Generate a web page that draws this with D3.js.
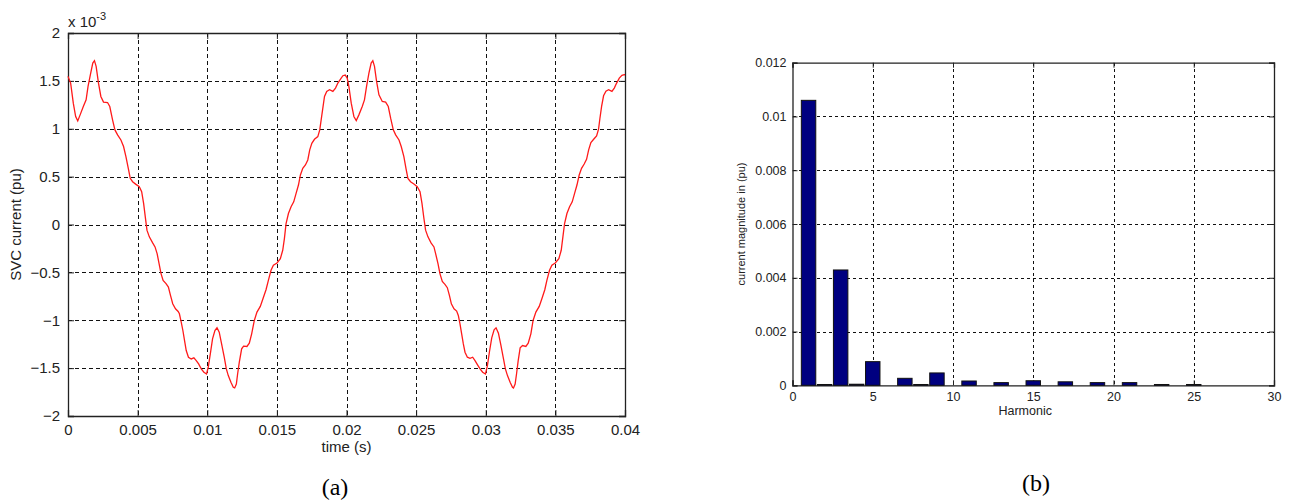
<!DOCTYPE html>
<html>
<head>
<meta charset="utf-8">
<script src="https://cdn.jsdelivr.net/npm/d3@7"></script>
<style>
  html, body { margin: 0; padding: 0; background: #fff; }
  svg { display: block; }
  text { font-family: "Liberation Sans", Arial, sans-serif; fill: #222; }
  .cap { font-family: "Liberation Serif", "Times New Roman", serif; fill: #000; }
</style>
</head>
<body>
<svg id="fig" width="1291" height="501"></svg>
<script>
// ---- (a) SVC current waveform, time in seconds, current in units of 1e-3 pu ----
const timeS = [
  0, 0.00019, 0.00038, 0.00055, 0.0007, 0.00087, 0.0011, 0.0013, 0.00144, 0.00163,
  0.00178, 0.0019, 0.00202, 0.00219, 0.00236, 0.00255, 0.00284, 0.003, 0.0032, 0.00337,
  0.00356, 0.0038, 0.00399, 0.00416, 0.00433, 0.00447, 0.00464, 0.00488, 0.00512, 0.00529,
  0.00543, 0.00555, 0.00567, 0.00584, 0.00608, 0.00625, 0.0064, 0.00654, 0.00668, 0.00683,
  0.00704, 0.00721, 0.00736, 0.00752, 0.00772, 0.00791, 0.008, 0.00813, 0.00825, 0.00837,
  0.00849, 0.00865, 0.00885, 0.00904, 0.00921, 0.00938, 0.00957, 0.00976, 0.00995,
  0.01007, 0.01022, 0.01038, 0.01055, 0.0107, 0.01086, 0.01103, 0.01122, 0.01137, 0.01151,
  0.0117, 0.01187, 0.01197, 0.01209, 0.01218, 0.0123, 0.01247, 0.01261, 0.01285, 0.01302,
  0.01319, 0.01338, 0.01357, 0.01381, 0.014, 0.01422, 0.01439, 0.01458, 0.01475, 0.01501,
  0.01525, 0.01542, 0.01554, 0.01566, 0.01583, 0.01602, 0.01621, 0.01638, 0.01655, 0.01669,
  0.01686, 0.01705, 0.01722, 0.01736, 0.01751, 0.0177, 0.01794, 0.01808, 0.01818, 0.0183,
  0.01842, 0.01858, 0.01878, 0.01902, 0.01921, 0.01938, 0.01957, 0.01974, 0.01991,
  0.02005, 0.02017, 0.02034, 0.02053, 0.0207, 0.02089, 0.02113, 0.02129, 0.02144, 0.02161,
  0.02177, 0.02189, 0.02201, 0.02216, 0.02233, 0.02257, 0.02281, 0.023, 0.02317, 0.02336,
  0.02353, 0.02377, 0.02393, 0.02412, 0.02427, 0.02441, 0.0246, 0.02484, 0.02508, 0.02528,
  0.02542, 0.02556, 0.02568, 0.02585, 0.02607, 0.02628, 0.0264, 0.02657, 0.02671, 0.02688,
  0.02707, 0.02724, 0.02739, 0.02753, 0.02772, 0.02791, 0.02803, 0.02815, 0.02827, 0.02839,
  0.02851, 0.02868, 0.02887, 0.02906, 0.02923, 0.0294, 0.02959, 0.02978, 0.02998,
  0.03012, 0.03026, 0.03043, 0.0306, 0.03074, 0.03091, 0.03108, 0.03125, 0.03141, 0.03156,
  0.03175, 0.03192, 0.03199, 0.03211, 0.03221, 0.03233, 0.03247, 0.03264, 0.03288, 0.03305,
  0.03324, 0.0334, 0.0336, 0.03384, 0.03403, 0.03424, 0.03439, 0.03458, 0.03475, 0.03499,
  0.03525, 0.03542, 0.03554, 0.03566, 0.03583, 0.03602, 0.03621, 0.03638, 0.03655, 0.03671,
  0.03688, 0.03707, 0.03724, 0.03739, 0.03755, 0.03775, 0.03796, 0.0381, 0.0382, 0.03832,
  0.03846, 0.03863, 0.03882, 0.03906, 0.03923, 0.0394, 0.03959, 0.03978, 0.03995, 0.04
];
const currentE3 = [
  1.547, 1.477, 1.267, 1.128, 1.082, 1.145, 1.232, 1.302, 1.442, 1.582,
  1.686, 1.711, 1.652, 1.477, 1.337, 1.278, 1.274, 1.232, 1.093, 0.988,
  0.936, 0.883, 0.814, 0.709, 0.587, 0.482, 0.447, 0.419, 0.395, 0.342,
  0.22, 0.08, -0.059, -0.129, -0.192, -0.234, -0.304, -0.409, -0.513, -0.583,
  -0.618, -0.653, -0.74, -0.828, -0.88, -0.908, -0.932, -1.02, -1.107, -1.212,
  -1.316, -1.386, -1.404, -1.393, -1.421, -1.456, -1.508, -1.543, -1.561,
  -1.491, -1.351, -1.194, -1.107, -1.079, -1.124, -1.247, -1.386, -1.508, -1.578,
  -1.648, -1.7, -1.707, -1.666, -1.561, -1.439, -1.299, -1.271, -1.274, -1.24,
  -1.142, -1.002, -0.915, -0.855, -0.775, -0.681, -0.583, -0.478, -0.426, -0.402,
  -0.356, -0.269, -0.147, 0.01, 0.115, 0.185, 0.237, 0.325, 0.412, 0.517,
  0.587, 0.622, 0.674, 0.779, 0.848, 0.89, 0.918, 0.988, 1.093, 1.215,
  1.337, 1.39, 1.407, 1.39, 1.425, 1.477, 1.519, 1.554, 1.561,
  1.529, 1.442, 1.267, 1.128, 1.086, 1.145, 1.232, 1.302, 1.442, 1.582,
  1.686, 1.711, 1.652, 1.494, 1.355, 1.285, 1.278, 1.232, 1.11, 0.988,
  0.936, 0.883, 0.814, 0.709, 0.587, 0.482, 0.447, 0.422, 0.395, 0.342,
  0.22, 0.063, -0.059, -0.129, -0.192, -0.234, -0.304, -0.409, -0.513, -0.594,
  -0.625, -0.66, -0.74, -0.828, -0.88, -0.904, -0.95, -1.037, -1.142, -1.247,
  -1.334, -1.386, -1.397, -1.386, -1.421, -1.463, -1.508, -1.543, -1.561,
  -1.473, -1.334, -1.184, -1.1, -1.079, -1.135, -1.254, -1.386, -1.508, -1.578,
  -1.648, -1.7, -1.707, -1.666, -1.561, -1.421, -1.288, -1.264, -1.274, -1.24,
  -1.142, -1.002, -0.915, -0.855, -0.775, -0.681, -0.583, -0.478, -0.426, -0.402,
  -0.356, -0.269, -0.129, 0.01, 0.115, 0.185, 0.237, 0.325, 0.412, 0.517,
  0.587, 0.632, 0.681, 0.779, 0.855, 0.89, 0.925, 0.995, 1.11, 1.233,
  1.344, 1.393, 1.407, 1.39, 1.425, 1.477, 1.529, 1.557, 1.564, 1.565
];
const timeTicks = [0, 0.005, 0.01, 0.015, 0.02, 0.025, 0.03, 0.035, 0.04];
const timeTickLabels = ["0", "0.005", "0.01", "0.015", "0.02", "0.025", "0.03", "0.035", "0.04"];
const currentTicks = [-2, -1.5, -1, -0.5, 0, 0.5, 1, 1.5, 2];

// ---- (b) harmonic spectrum of the SVC current ----
const harmonicOrder = [1, 2, 3, 4, 5, 7, 8, 9, 11, 13, 15, 17, 19, 21, 23, 25];
const harmonicMagnitude = [
  0.0106, 0.00003, 0.00429, 0.00004, 0.00088, 0.00026, 0.00003, 0.00046,
  0.00016, 0.0001, 0.00017, 0.00013, 0.0001, 0.0001, 0.00003, 0.00003
];
const harmonicTicks = [0, 5, 10, 15, 20, 25, 30];
const magnitudeTicks = [0, 0.002, 0.004, 0.006, 0.008, 0.01, 0.012];
const magnitudeTickLabels = ["0", "0.002", "0.004", "0.006", "0.008", "0.01", "0.012"];

const svg = d3.select("#fig");

// Shared helper: MATLAB-style box axes with inward ticks on all four sides and dashed grid.
function boxAxes(g, x, y, xTicks, yTicks, xFmt, yFmt, opts) {
  const [x0, x1] = x.range();
  const [y0, y1] = y.range(); // y0 bottom, y1 top
  const tk = opts.tick;

  // grid
  const grid = g.append("g").attr("stroke", "#111").attr("stroke-width", 1)
    .attr("stroke-dasharray", opts.dash).attr("shape-rendering", "crispEdges");
  grid.selectAll(".gx").data(xTicks.filter(v => x(v) > x0 + 1 && x(v) < x1 - 1)).join("line")
    .attr("x1", d => Math.round(x(d)) + 0.5).attr("x2", d => Math.round(x(d)) + 0.5)
    .attr("y1", y1).attr("y2", y0);
  grid.selectAll(".gy").data(yTicks.filter(v => y(v) < y0 - 1 && y(v) > y1 + 1)).join("line")
    .attr("y1", d => Math.round(y(d)) + 0.5).attr("y2", d => Math.round(y(d)) + 0.5)
    .attr("x1", x0).attr("x2", x1);

  // axes with inward ticks
  const bottom = g.append("g").attr("transform", `translate(0,${y0})`)
    .call(d3.axisBottom(x).tickValues(xTicks).tickFormat(xFmt).tickSize(-tk).tickPadding(opts.xPad));
  const top = g.append("g").attr("transform", `translate(0,${y1})`)
    .call(d3.axisTop(x).tickValues(xTicks).tickFormat("").tickSize(-tk));
  const left = g.append("g").attr("transform", `translate(${x0},0)`)
    .call(d3.axisLeft(y).tickValues(yTicks).tickFormat(yFmt).tickSize(-tk).tickPadding(opts.yPad));
  const right = g.append("g").attr("transform", `translate(${x1},0)`)
    .call(d3.axisRight(y).tickValues(yTicks).tickFormat("").tickSize(-tk));
  [bottom, top, left, right].forEach(a => {
    a.select(".domain").attr("stroke", "#222").attr("stroke-width", 1.3);
    a.selectAll(".tick line").attr("stroke", "#222");
    a.selectAll("text").attr("font-size", opts.fontSize).attr("fill", "#222")
      .attr("font-family", "'Liberation Sans', Arial, sans-serif");
  });
  return { bottom, left };
}

// ================= (a) =================
const xA = d3.scaleLinear().domain([0, 0.04]).range([68, 625]);
const yA = d3.scaleLinear().domain([-2, 2]).range([416, 33]);
const gA = svg.append("g");
boxAxes(gA, xA, yA, timeTicks, currentTicks,
  (d, i) => timeTickLabels[timeTicks.indexOf(d)], d => d3.format("")(d),
  { tick: 6, dash: "4,3", xPad: 8, yPad: 8, fontSize: 15 });

const waveLine = d3.line().x((d, i) => xA(timeS[i])).y(d => yA(d));
gA.append("path").datum(currentE3)
  .attr("d", waveLine).attr("fill", "none").attr("stroke", "#ff1a1a").attr("stroke-width", 1.3);

// exponent label
const expo = gA.append("text").attr("x", 68).attr("y", 27).attr("font-size", 15);
expo.append("tspan").text("x 10");
expo.append("tspan").attr("dy", -7).attr("font-size", 11).text("-3");

gA.append("text").attr("x", xA(0.02)).attr("y", 452).attr("text-anchor", "middle")
  .attr("font-size", 15).text("time (s)");
gA.append("text").attr("transform", `translate(21,${yA(0)}) rotate(-90)`)
  .attr("text-anchor", "middle").attr("font-size", 15).text("SVC current (pu)");

svg.append("text").attr("class", "cap").attr("x", 335).attr("y", 495)
  .attr("text-anchor", "middle").attr("font-size", 24).text("(a)");

// ================= (b) =================
const xB = d3.scaleLinear().domain([0, 30]).range([792.5, 1274]);
const yB = d3.scaleLinear().domain([0, 0.012]).range([385.3, 62.7]);
const gB = svg.append("g");
const barW = (xB(1) - xB(0)) * 0.9;
boxAxes(gB, xB, yB, harmonicTicks, magnitudeTicks,
  d => String(d), d => magnitudeTickLabels[magnitudeTicks.indexOf(d)],
  { tick: 5, dash: "3,3", xPad: 7, yPad: 6, fontSize: 12.5 });

gB.append("g").selectAll("rect").data(harmonicOrder).join("rect")
  .attr("x", (d) => xB(d) - barW / 2)
  .attr("width", barW)
  .attr("y", (d, i) => yB(harmonicMagnitude[i]))
  .attr("height", (d, i) => yB(0) - yB(harmonicMagnitude[i]))
  .attr("fill", "#000080").attr("stroke", "#111").attr("stroke-width", 1);

gB.append("text").attr("x", xB(14.5)).attr("y", 415).attr("text-anchor", "middle")
  .attr("font-size", 12.5).text("Harmonic");
gB.append("text").attr("transform", `translate(745,${yB(0.006)}) rotate(-90)`)
  .attr("text-anchor", "middle").attr("font-size", 11).text("current magnitude in (pu)");

svg.append("text").attr("class", "cap").attr("x", 1036).attr("y", 491)
  .attr("text-anchor", "middle").attr("font-size", 24).text("(b)");
</script>
</body>
</html>
